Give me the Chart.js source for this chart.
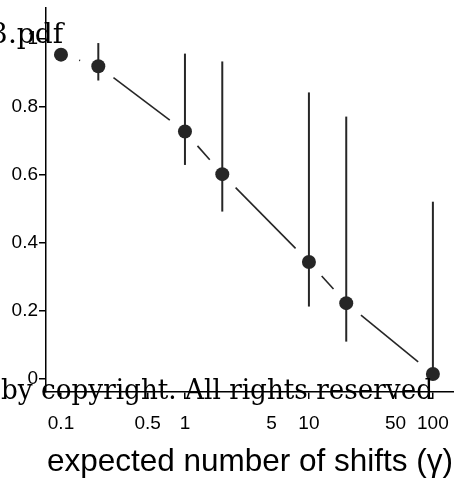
<!DOCTYPE html>
<html>
<head>
<meta charset="utf-8">
<script src="https://cdn.jsdelivr.net/npm/chart.js@4/dist/chart.umd.min.js"></script>
<style>
  body { margin: 0; background: #fff; }
  canvas { display: block; }
</style>
</head>
<body>
<canvas id="myChart" width="454" height="481"></canvas>
<script>
// data
const shifts = [0.1, 0.2, 1, 2, 10, 20, 100];
const prob = [0.953, 0.919, 0.727, 0.602, 0.344, 0.223, 0.015];
const lower = [0.94, 0.877, 0.629, 0.492, 0.213, 0.110, 0.0];
const upper = [0.965, 0.987, 0.956, 0.933, 0.842, 0.771, 0.521];

const xTicks = [0.1, 0.5, 1, 5, 10, 50, 100];
const yTicks = [0, 0.2, 0.4, 0.6, 0.8, 1];

const ink = "#262626";

// R style type="b" line (gaps round points) + error bars
const bars = {
  id: "bars",
  beforeDatasetsDraw(chart) {
    const ctx = chart.ctx;
    const pts = chart.getDatasetMeta(0).data;
    const ys = chart.scales.y;
    const gap = 19;
    ctx.save();
    ctx.strokeStyle = ink;
    ctx.lineWidth = 1.6;
    for (let i = 0; i < pts.length - 1; i++) {
      const a = pts[i], b = pts[i + 1];
      const dx = b.x - a.x, dy = b.y - a.y;
      const len = Math.hypot(dx, dy);
      if (len <= 2 * gap) continue;
      const ux = dx / len, uy = dy / len;
      ctx.beginPath();
      ctx.moveTo(a.x + ux * gap, a.y + uy * gap);
      ctx.lineTo(b.x - ux * gap, b.y - uy * gap);
      ctx.stroke();
    }
    ctx.lineWidth = 2;
    pts.forEach((p, i) => {
      ctx.beginPath();
      ctx.moveTo(p.x, ys.getPixelForValue(lower[i]));
      ctx.lineTo(p.x, ys.getPixelForValue(upper[i]));
      ctx.stroke();
    });
    ctx.restore();
  },
  afterDraw(chart) {
    // stray text from the cropped page
    const ctx = chart.ctx;
    ctx.save();
    ctx.fillStyle = "#000";
    ctx.font = '28px "DejaVu Serif"';
    ctx.textBaseline = "alphabetic";
    ctx.textAlign = "right";
    ctx.fillText("3.pdf", 63, 43);
    const txt = "by copyright. All rights reserved";
    const w = ctx.measureText(txt).width;
    ctx.textAlign = "left";
    ctx.translate(1, 399);
    ctx.scale(432 / w, 1);
    ctx.fillText(txt, 0, 0);
    ctx.restore();
  }
};

const ctx = document.getElementById("myChart");

const chart = new Chart(ctx, {
  type: "scatter",
  data: {
    datasets: [{
      data: shifts.map((x, i) => ({ x: x, y: prob[i] })),
      pointRadius: 7,
      pointHoverRadius: 7,
      backgroundColor: ink,
      borderWidth: 0,
      showLine: false
    }]
  },
  options: {
    responsive: false,
    devicePixelRatio: 1,
    animation: false,
    layout: { autoPadding: false, padding: { top: 8, right: 0, left: 0, bottom: 0 } },
    plugins: { legend: { display: false }, tooltip: { enabled: false } },
    scales: {
      x: {
        type: "logarithmic",
        min: 0.0757,
        max: 148,
        afterBuildTicks: (s) => { s.ticks = xTicks.map(v => ({ value: v })); },
        afterFit: (s) => { s.height = 89; s.paddingLeft = 0; s.paddingRight = 0; },
        ticks: {
          autoSkip: false,
          maxRotation: 0,
          padding: 13,
          color: "#000",
          font: { family: "Liberation Sans", size: 19 },
          callback: (v) => String(v)
        },
        grid: { drawOnChartArea: false, drawTicks: true, tickLength: 7, color: "#000", lineWidth: 1.5 },
        border: { color: "#000", width: 1.5 },
        title: {
          display: true,
          text: "expected number of shifts (\u03b3)",
          color: "#000",
          font: { family: "Liberation Sans", size: 31.5 },
          padding: { top: 0, bottom: 0 }
        }
      },
      y: {
        min: -0.038,
        max: 1.09,
        afterBuildTicks: (s) => { s.ticks = yTicks.map(v => ({ value: v })); },
        afterFit: (s) => { s.width = 46; s.paddingTop = 0; s.paddingBottom = 0; },
        ticks: {
          padding: 1,
          color: "#000",
          font: { family: "Liberation Sans", size: 19 },
          callback: (v) => String(v)
        },
        grid: { drawOnChartArea: false, drawTicks: true, tickLength: 7, color: "#000", lineWidth: 1.5 },
        border: { color: "#000", width: 1.5 }
      }
    }
  },
  plugins: [bars]
});
</script>
</body>
</html>
